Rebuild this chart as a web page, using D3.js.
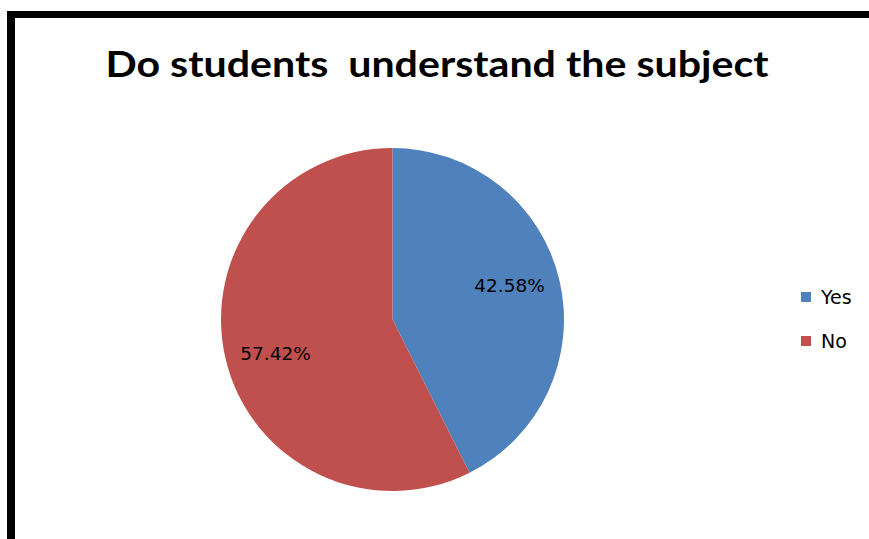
<!DOCTYPE html>
<html><head><meta charset="utf-8">
<script src="https://cdn.jsdelivr.net/npm/d3@7"></script>
<style>body{margin:0;background:#fff}svg{display:block}</style>
</head><body>
<script>
const categories = ["Yes", "No"];
const values = [42.58, 57.42];
const colors = ["#4F81BD", "#C0504D"];
const title = "Do students  understand the subject";

const W = 869, H = 539;
const svg = d3.select("body").append("svg").attr("width", W).attr("height", H);
svg.append("rect").attr("width", W).attr("height", H).attr("fill", "#fff");

// frame (top and left borders)
svg.append("rect").attr("x", 7).attr("y", 11).attr("width", W - 7).attr("height", 7).attr("fill", "#000");
svg.append("rect").attr("x", 7).attr("y", 11).attr("width", 8).attr("height", H - 11).attr("fill", "#000");

svg.append("text").attr("x", 437).attr("y", 77).attr("text-anchor", "middle")
  .attr("font-family", "Lato, 'Open Sans', sans-serif").attr("font-weight", "bold")
  .attr("font-size", 37).attr("fill", "#000").style("white-space", "pre")
  .attr("textLength", 663).attr("lengthAdjust", "spacingAndGlyphs")
  .text(title);

const cx = 392.5, cy = 319.5, R = 171.5;
const pie = d3.pie().sort(null).value(d => d)(values);
const arc = d3.arc().innerRadius(0).outerRadius(R);
const g = svg.append("g").attr("transform", `translate(${cx},${cy})`);
g.selectAll("path").data(pie).join("path")
  .attr("d", arc).attr("fill", (d, i) => colors[i]);

const labelArc = d3.arc().innerRadius(124).outerRadius(124);
g.selectAll("text.lab").data(pie).join("text").attr("class", "lab")
  .attr("transform", d => { const c = labelArc.centroid(d); return `translate(${c[0] * 0.97},${c[1] * 1.2})`; })
  .attr("text-anchor", "middle").attr("dy", "0.35em")
  .attr("font-family", "'DejaVu Sans', sans-serif").attr("font-size", 18.5).attr("fill", "#000")
  .text(d => d.value.toFixed(2) + "%");

const leg = svg.append("g");
categories.forEach((c, i) => {
  const y = 297 + i * 44;
  leg.append("rect").attr("x", 801).attr("y", y - 5).attr("width", 10).attr("height", 10).attr("fill", colors[i]);
  leg.append("text").attr("x", 821).attr("y", y).attr("dy", "0.35em")
    .attr("font-family", "'DejaVu Sans', sans-serif").attr("font-size", 19).attr("fill", "#000").text(c);
});
</script>
</body></html>
